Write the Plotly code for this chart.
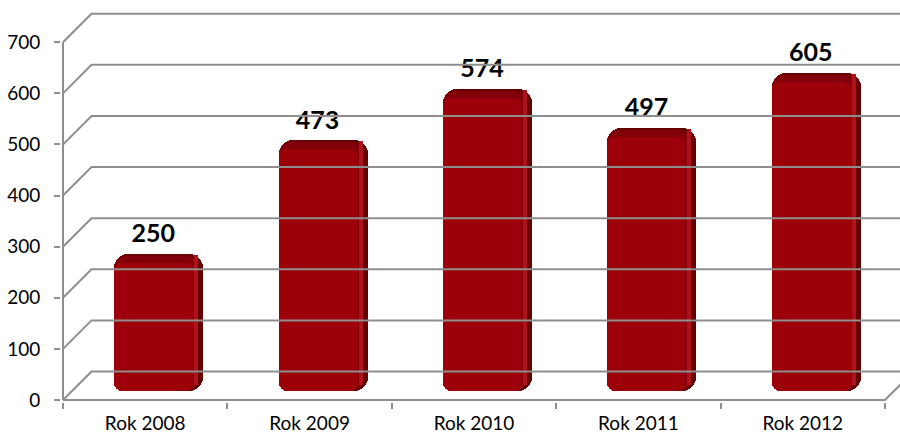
import plotly.graph_objects as go

# ---- data ----
categories = ["Rok 2008", "Rok 2009", "Rok 2010", "Rok 2011", "Rok 2012"]
values = [250, 473, 574, 497, 605]
y_ticks = [0, 100, 200, 300, 400, 500, 600, 700]

# ---- geometry (pixel scales of the drawing) ----
W, H = 900, 434
PX_CAT = 164.4          # px per category
PX_UNIT = 0.5111        # px per value unit
LEFT = 61
PLOT_BOTTOM = 402
xmin = -0.5 - 2 / PX_CAT
xmax = xmin + (W - LEFT) / PX_CAT
ymin = -2 / PX_UNIT
ymax = ymin + PLOT_BOTTOM / PX_UNIT

DX = 28.5 / PX_CAT      # perspective depth offset (x)
DY = 28.5 / PX_UNIT     # perspective depth offset (y)

GRID = "#8e8e8e"
n = len(categories)
x_left = -0.5
x_right = n - 0.5

# frame: front axes, left-wall diagonals, back-wall gridlines, floor
fx, fy = [], []
for v in y_ticks:
    fx += [x_left, x_left + DX, xmax + 1, None]
    fy += [v, v + DY, v + DY, None]
fx += [x_left, x_left, None, x_left, x_right, x_right + DX, None]
fy += [y_ticks[-1], 0, None, 0, 0, DY, None]

fig = go.Figure()
fig.add_trace(go.Scatter(x=fx, y=fy, mode="lines", xaxis="x2",
                         line=dict(color=GRID, width=2), hoverinfo="skip",
                         showlegend=False))

# ---- bars (pseudo-3D) ----
BAR_SHIFT = 13.5 / PX_CAT
BAR_W = 89 / PX_CAT
BASE = 9 / PX_UNIT
CAP = 9 / PX_UNIT
xs = [i + BAR_SHIFT for i in range(n)]

def px_x(p):
    return p / PX_CAT

def px_y(p):
    return p / PX_UNIT

# outer dark body (includes right side + top face)
fig.add_trace(go.Bar(x=xs, y=[v + CAP for v in values], base=BASE, width=BAR_W,
                     marker=dict(color="#640000", cornerradius=14, line=dict(width=0)),
                     hoverinfo="skip", showlegend=False))
# top band
fig.add_trace(go.Bar(x=[x - px_x(2.5) for x in xs], y=[v + CAP - px_y(2) for v in values],
                     base=BASE, width=BAR_W - px_x(5),
                     marker=dict(color="#82000a", cornerradius=12, line=dict(width=0)),
                     hoverinfo="skip", showlegend=False))
# right highlight strip
fig.add_trace(go.Bar(x=[x + BAR_W / 2 - px_x(7) for x in xs], y=[v + px_y(2) for v in values],
                     base=BASE + px_y(6), width=px_x(4),
                     marker=dict(color="#b0121b", line=dict(width=0)),
                     hoverinfo="skip", showlegend=False))
# front face
fig.add_trace(go.Bar(x=[x - px_x(5) for x in xs], y=values, base=BASE,
                     width=BAR_W - px_x(10),
                     marker=dict(color="#9c0008", cornerradius=8, line=dict(width=0)),
                     hoverinfo="skip", showlegend=False))

# data labels
fig.add_trace(go.Scatter(x=[i + 8 / PX_CAT for i in range(n)],
                         y=[v + 36 / PX_UNIT for v in values],
                         text=[str(v) for v in values], mode="text",
                         textposition="middle center",
                         textfont=dict(family="Lato", size=25, color="#000000", weight="bold"),
                         hoverinfo="skip", showlegend=False))

fig.update_layout(
    width=W, height=H,
    margin=dict(l=LEFT, r=0, t=0, b=H - PLOT_BOTTOM, autoexpand=False),
    paper_bgcolor="white", plot_bgcolor="white",
    barmode="overlay", bargap=0,
    showlegend=False,
    font=dict(family="Lato", size=19, color="#000000"),
    xaxis=dict(range=[xmin, xmax], tickvals=list(range(n)), ticktext=categories,
               ticks="", showgrid=False, zeroline=False, showline=False, automargin=False,
               ticklabelstandoff=8, tickfont=dict(family="Lato", size=19, color="#000")),
    xaxis2=dict(range=[xmin, xmax], overlaying="x", anchor="y", side="bottom",
                tickvals=[i - 0.5 for i in range(n + 1)], ticks="outside", ticklen=6,
                tickwidth=2, tickcolor=GRID, showticklabels=False, automargin=False,
                showgrid=False, zeroline=False, showline=False),
    yaxis=dict(range=[ymin, ymax], tickvals=y_ticks, ticks="outside", ticklen=6,
               tickwidth=2, tickcolor=GRID, showgrid=False, zeroline=False,
               showline=False, ticklabelstandoff=10, automargin=False,
               tickfont=dict(family="Lato", size=19, color="#000")),
)

fig.write_html("out.html", config={"displayModeBar": False},
               post_script="document.body.style.margin='0';document.body.style.overflow='hidden';")
